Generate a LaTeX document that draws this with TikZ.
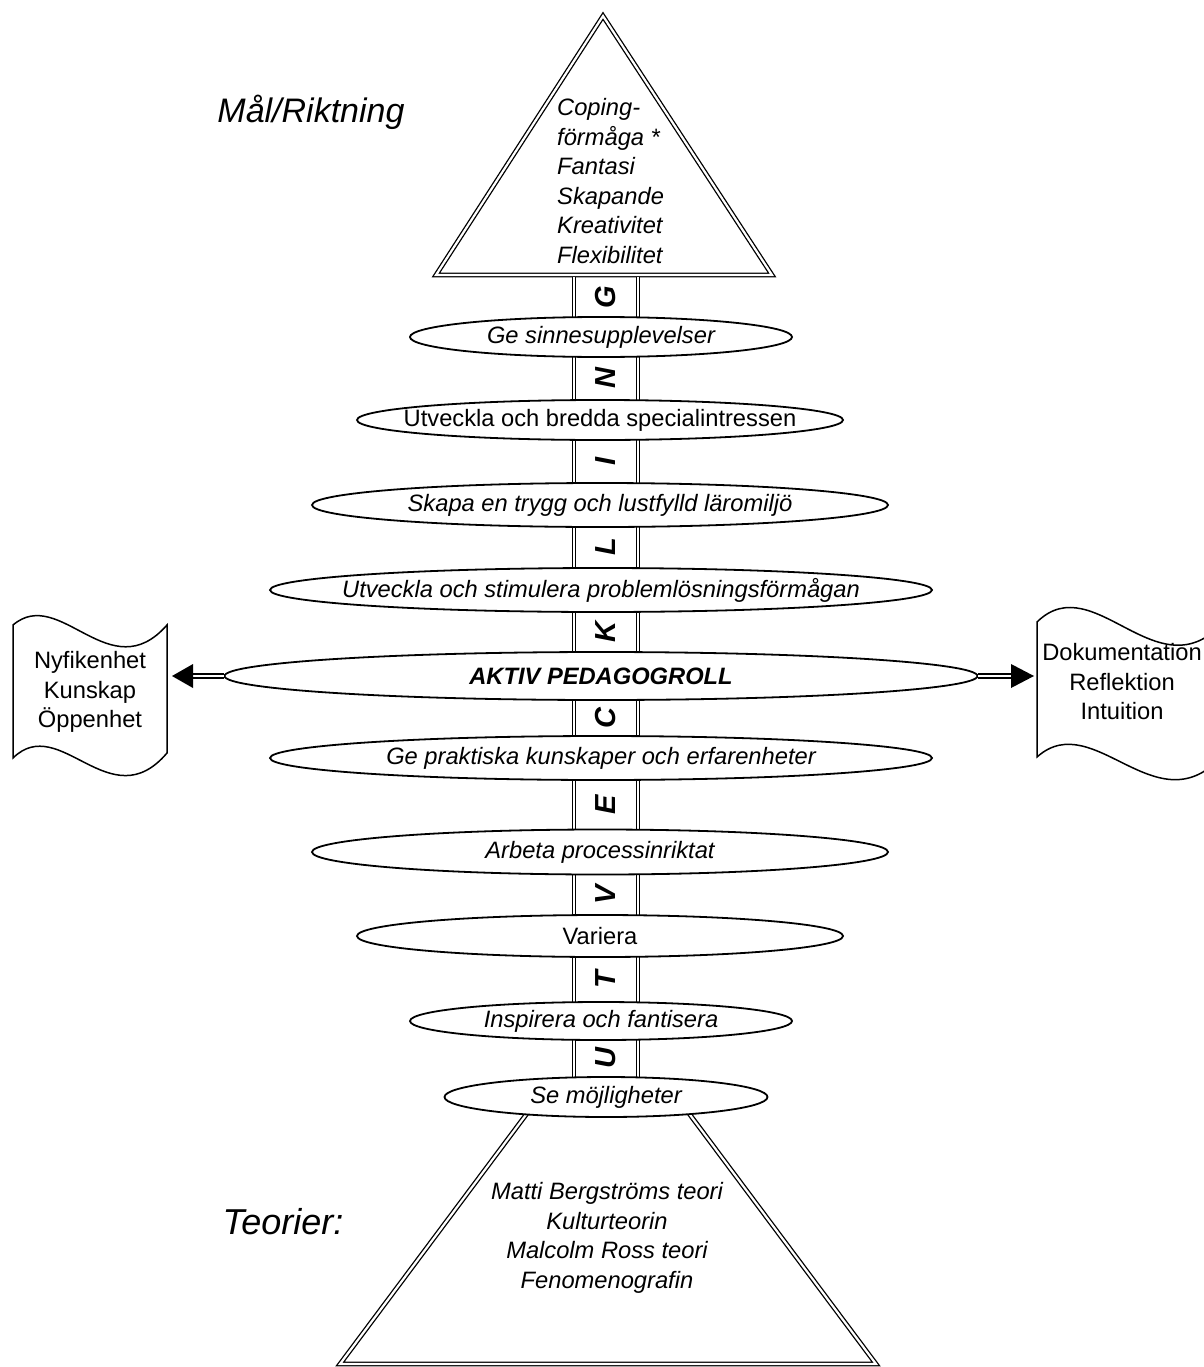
\documentclass[tikz,border=0pt]{standalone}
\usepackage{fontspec}
\setmainfont{Liberation Sans}
\usetikzlibrary{shapes.geometric}
\newcommand\fsz{\fontsize{23.7}{29.5}\selectfont}
\begin{document}
\begin{tikzpicture}[x=1pt,y=-1pt,
  dbl/.style={draw, double, double distance=2.2pt, line width=1.3pt, line join=miter},
  rung/.style={draw, ellipse, line width=1.8pt, fill=white, inner sep=0pt},
  up/.style={font=\fsz, inner sep=0pt, align=center},
  it/.style={font=\fsz\itshape, inner sep=0pt, align=center},
  letter/.style={font=\fontsize{29}{29}\selectfont\bfseries\itshape, rotate=90, inner sep=0pt},
  flag/.style={draw, line width=1.5pt, fill=white},
  shaft/.style={draw, double, double distance=1.8pt, line width=2.2pt},
  title/.style={font=\fontsize{34}{40}\selectfont\itshape, inner sep=0pt}
]
\useasboundingbox (0,0) rectangle (1203,1367);

% top triangle (goal) and bottom trapezoid (theories)
\draw[dbl] (603,16) -- (772,275) -- (436,275) -- cycle;
\draw[dbl] (537,1100) -- (340,1364) -- (876,1364) -- (679,1100);

% stem
\draw[dbl] (574,277) -- (574,1097);
\draw[dbl] (638,277) -- (638,1097);

% rungs
\node[rung, minimum width=382pt, minimum height=40pt] (e1) at (601,337) {};
\node[rung, minimum width=486pt, minimum height=40pt] (e2) at (600,420) {};
\node[rung, minimum width=576pt, minimum height=44pt] (e3) at (600,505) {};
\node[rung, minimum width=662pt, minimum height=44pt] (e4) at (601,590) {};
\node[rung, minimum width=753pt, minimum height=48pt] (e5) at (601,676) {};
\node[rung, minimum width=662pt, minimum height=44pt] (e6) at (601,758) {};
\node[rung, minimum width=576pt, minimum height=45pt] (e7) at (600,852) {};
\node[rung, minimum width=486pt, minimum height=42pt] (e8) at (600,936) {};
\node[rung, minimum width=382pt, minimum height=38pt] (e9) at (601,1021) {};
\node[rung, minimum width=323pt, minimum height=40pt] (e10) at (606,1097) {};

\node[it] (t1) at (e1) {Ge sinnesupplevelser};
\node[up] (t2) at (e2) {Utveckla och bredda specialintressen};
\node[it] (t3) at (e3) {Skapa en trygg och lustfylld läromiljö};
\node[it] (t4) at (e4) {Utveckla och stimulera problemlösningsförmågan};
\node[it, font=\fsz\bfseries\itshape] (t5) at (e5) {AKTIV PEDAGOGROLL};
\node[it] (t6) at (e6) {Ge praktiska kunskaper och erfarenheter};
\node[it] (t7) at (e7) {Arbeta processinriktat};
\node[up] (t8) at (e8) {Variera};
\node[it] (t9) at (e9) {Inspirera och fantisera};
\node[it] (t10) at (e10) {Se möjligheter};

% stem letters
\node[letter] (lG) at (606,297) {G};
\node[letter] (lN) at (606,378) {N};
\node[letter] (lI) at (606,461) {I};
\node[letter] (lL) at (606,547) {L};
\node[letter] (lK) at (606,632) {K};
\node[letter] (lC) at (606,718) {C};
\node[letter] (lE) at (606,805) {E};
\node[letter] (lV) at (606,895) {V};
\node[letter] (lT) at (606,980) {T};
\node[letter] (lU) at (606,1058) {U};

% triangle texts
\node[it, align=left, anchor=west] (goal) at (557,181)
  {Coping-\\förmåga *\\Fantasi\\Skapande\\Kreativitet\\Flexibilitet};
\node[it] (theo) at (607,1238)
  {Matti Bergströms teori\\Kulturteorin\\Malcolm Ross teori\\Fenomenografin};

\node[title] (mal) at (311,112) {Mål/Riktning};
\node[title, font=\fontsize{36}{40}\selectfont\itshape] (teo) at (283,1222) {Teorier:};

% side flags
\draw[flag] (13,625) .. controls (60,585) and (110,690) .. (167,625)
  -- (167,753) .. controls (110,820) and (60,712) .. (13,758) -- cycle;
\draw[flag] (1037,622) .. controls (1095,565) and (1160,700) .. (1227,618)
  -- (1227,750) .. controls (1160,835) and (1095,705) .. (1037,757) -- cycle;
\node[up] (lbox) at (90,692) {Nyfikenhet\\Kunskap\\Öppenhet};
\node[up] (rbox) at (1122,682) {Dokumentation\\Reflektion\\Intuition};

% arrows
\coordinate (ltip) at (172,676);
\coordinate (lbase) at (193,676);
\coordinate (rtip) at (1034,676);
\coordinate (rbase) at (1011,676);
\draw[shaft] (e5.west) -- (lbase);
\fill (ltip) -- ([yshift=-12pt]lbase) -- ([yshift=12pt]lbase) -- cycle;
\draw[shaft] (e5.east) -- (rbase);
\fill (rtip) -- ([yshift=-12pt]rbase) -- ([yshift=12pt]rbase) -- cycle;
\end{tikzpicture}
\end{document}
